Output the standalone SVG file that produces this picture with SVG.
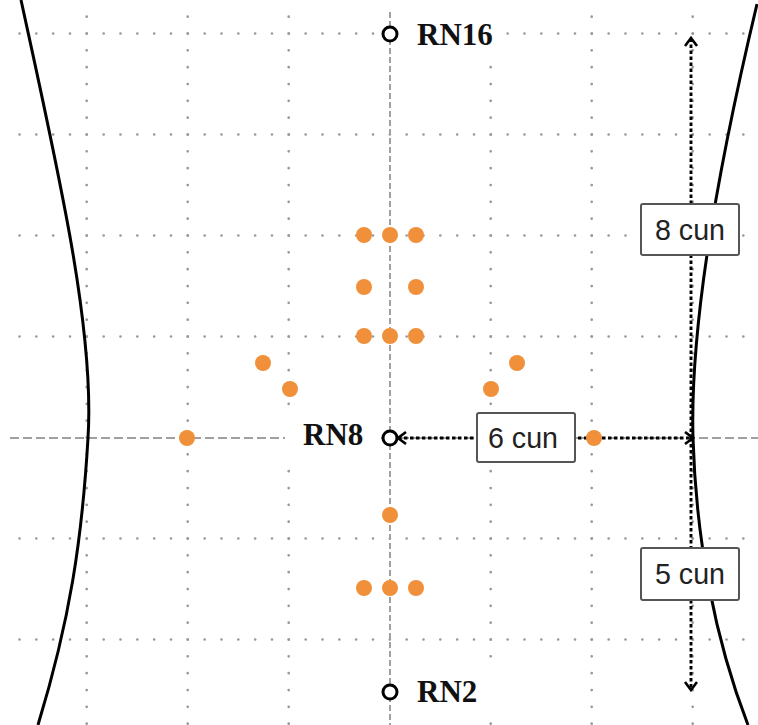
<svg xmlns="http://www.w3.org/2000/svg" width="758" height="725" viewBox="0 0 758 725">
<style>
.grid{stroke:#999;stroke-width:2.7;stroke-linecap:round;stroke-dasharray:0 16.8333;fill:none}
.axis{stroke:#a0a0a0;stroke-width:2;fill:none}
.body{stroke:#000;stroke-width:3;fill:none}
.conn{stroke:#000;stroke-width:2.9;stroke-dasharray:3.5 2.5;fill:none}
.pt{fill:#f0903a}
.rn{fill:#fff;stroke:#000;stroke-width:3}
.rnlab{font-family:"Liberation Serif",serif;font-weight:bold;font-size:31px;fill:#111}
.box{fill:#fff;stroke:#555;stroke-width:2}
.blab{font-family:"Liberation Sans",Arial,sans-serif;font-size:30px;fill:#222;text-anchor:middle}
.bg{fill:#fff}
</style>
<defs>
<marker id="chev" markerUnits="userSpaceOnUse" markerWidth="14" markerHeight="16" refX="9" refY="7" orient="auto-start-reverse" viewBox="0 0 14 16">
<path d="M1,1 L9,7 L1,13" fill="none" stroke="#000" stroke-width="2.6"/>
</marker>
</defs>
<rect width="758" height="725" fill="#fff"/>
<g id="grid">
<path class="grid" d="M19.5,33.5H758 M19.5,134.5H758 M19.5,235.5H758 M19.5,336.5H758 M19.5,538.5H758 M19.5,639.5H758"/>
<path class="grid" d="M86.7,16.7V725 M187.7,16.7V725 M288.7,16.7V725 M490.7,16.7V725 M591.7,16.7V725 M692.7,16.7V725"/>
<path class="axis" d="M10,438H758" stroke-dasharray="9 4"/>
<path class="axis" d="M390,12V725" stroke-dasharray="6 3"/>
</g>
<g id="body">
<path class="body" d="M21,0 C58,170 95,330 88,438 C82,540 70,620 38,725"/>
<path class="body" d="M757,4 C715,180 690,330 693,438 C696,540 715,640 748,725"/>
</g>
<g id="connectors">
<path class="conn" d="M691,438V38" marker-end="url(#chev)"/>
<path class="conn" d="M691,438V690" marker-end="url(#chev)"/>
<path class="conn" d="M398,438H693" marker-start="url(#chev)" marker-end="url(#chev)"/>
</g>
<g id="label-8cun"><rect class="box" x="641" y="204" width="98" height="51" rx="2"/><text class="blab" x="690" y="240" textLength="70" lengthAdjust="spacingAndGlyphs">8 cun</text></g>
<g id="label-6cun"><rect class="box" x="477" y="413" width="98" height="49" rx="2"/><text class="blab" x="523" y="448" textLength="70" lengthAdjust="spacingAndGlyphs">6 cun</text></g>
<g id="label-5cun"><rect class="box" x="641" y="548" width="98" height="52" rx="2"/><text class="blab" x="690" y="584" textLength="70" lengthAdjust="spacingAndGlyphs">5 cun</text></g>
<g id="points">
<circle class="pt" cx="364" cy="235" r="8"/><circle class="pt" cx="390" cy="235" r="8"/><circle class="pt" cx="416" cy="235" r="8"/>
<circle class="pt" cx="364" cy="287" r="8"/><circle class="pt" cx="416" cy="287" r="8"/>
<circle class="pt" cx="364" cy="336" r="8"/><circle class="pt" cx="390" cy="336" r="8"/><circle class="pt" cx="416" cy="336" r="8"/>
<circle class="pt" cx="263" cy="363" r="8"/><circle class="pt" cx="290" cy="389" r="8"/>
<circle class="pt" cx="517" cy="363" r="8"/><circle class="pt" cx="491" cy="389" r="8"/>
<circle class="pt" cx="187" cy="438" r="8"/><circle class="pt" cx="594" cy="438" r="8"/>
<circle class="pt" cx="390" cy="515" r="8"/>
<circle class="pt" cx="364" cy="588" r="8"/><circle class="pt" cx="390" cy="588" r="8"/><circle class="pt" cx="416" cy="588" r="8"/>
</g>
<g id="RN16"><rect class="bg" x="398" y="10" width="102" height="48"/><circle class="rn" cx="390" cy="34" r="7"/><text class="rnlab" x="417" y="45">RN16</text></g>
<g id="RN8"><rect class="bg" x="285" y="417" width="96" height="42"/><circle class="rn" cx="390" cy="438" r="7"/><text class="rnlab" x="303" y="445">RN8</text></g>
<g id="RN2"><rect class="bg" x="398" y="665" width="102" height="52"/><circle class="rn" cx="390" cy="692" r="7"/><text class="rnlab" x="417" y="702">RN2</text></g>
</svg>
